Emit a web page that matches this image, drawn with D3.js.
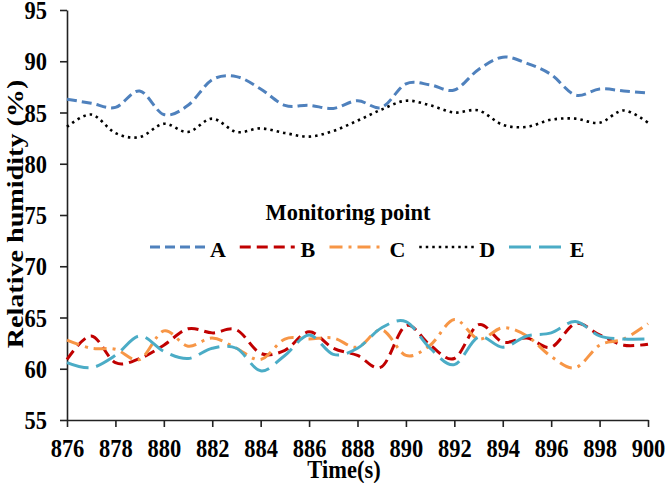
<!DOCTYPE html>
<html><head><meta charset="utf-8">
<script src="https://cdnjs.cloudflare.com/ajax/libs/d3/7.8.5/d3.min.js"></script>
<style>
html,body{margin:0;padding:0;background:#fff;}
text{font-family:"Liberation Serif","Times New Roman",serif;font-weight:bold;fill:#000;}
</style></head>
<body><svg id="chart" width="666" height="483"></svg>
<script>
const times = [876,877,878,879,880,881,882,883,884,885,886,887,888,889,890,891,892,893,894,895,896,897,898,899,900];
const seriesNames = ["A","B","C","D","E"];
const valuesA = [86.3,85.9,85.5,87.1,84.8,85.7,88.2,88.5,87.3,85.7,85.7,85.4,86.15,85.5,87.8,87.7,87.2,89.2,90.4,89.8,88.7,86.7,87.3,87.1,86.9];
const valuesB = [60.9,63.2,60.6,61.0,62.3,63.9,63.5,63.8,61.5,61.8,63.6,62.0,61.3,60.2,64.2,62.3,61.0,64.3,62.6,63.0,62.1,64.4,63.3,62.3,62.4];
const valuesC = [62.8,62.0,61.9,60.9,63.7,62.2,63.0,62.0,60.9,62.9,62.9,63.0,62.1,63.8,61.3,62.3,64.8,62.9,64.0,63.2,61.2,60.1,62.3,62.9,64.4];
const valuesD = [83.6,84.8,83.0,82.6,83.9,83.1,84.4,83.1,83.45,83.0,82.65,83.2,84.2,85.3,86.15,85.7,85.0,85.2,83.8,83.6,84.3,84.4,84.0,85.2,84.0];
const valuesE = [60.6,60.1,61.3,63.2,61.7,61.0,62.0,62.0,59.8,61.3,63.3,61.4,62.0,64.0,64.6,62.0,60.4,63.1,62.1,63.2,63.5,64.6,63.2,62.9,62.9];
const xTicks = [876,878,880,882,884,886,888,890,892,894,896,898,900];
const yTicks = [55,60,65,70,75,80,85,90,95];

const colors = {A:"#4F81BD",B:"#C00000",C:"#F79646",D:"#000000",E:"#4BACC6"};
const dashes = {A:"10 5",B:"11 6",C:"13 6 3 6",D:"2.5 4",E:"22 8"};
const widths = {A:3,B:3,C:3,D:2.6,E:3};
const data = {A:valuesA,B:valuesB,C:valuesC,D:valuesD,E:valuesE};

const svg = d3.select("#chart");
const L=67,R=648,T=10,B=420;
const x = d3.scaleLinear().domain([876,900]).range([L,R]);
const y = d3.scaleLinear().domain([55,95]).range([B,T]);

// axes
const xAxis = svg.append("g").attr("transform",`translate(0,${B})`)
  .call(d3.axisBottom(x).tickValues(xTicks).tickSize(7).tickSizeOuter(0).tickFormat(d3.format("d")));
const yAxis = svg.append("g").attr("transform",`translate(${L},0)`)
  .call(d3.axisLeft(y).tickValues(yTicks).tickSize(7).tickSizeOuter(0).tickFormat(d3.format("d")));
[xAxis,yAxis].forEach(g=>{
  g.select(".domain").attr("stroke","#222").attr("stroke-width",1.6);
  g.selectAll(".tick line").attr("stroke","#222").attr("stroke-width",1.6);
});
xAxis.selectAll(".tick text").attr("font-size",22.5).attr("dy",null).attr("y",0)
  .attr("transform","translate(0,37) scale(1,1.12)").attr("fill","#000");
yAxis.selectAll(".tick text").attr("font-size",22.5).attr("x",0).attr("dy",null)
  .attr("transform","translate(-20,8.5) scale(1,1.12)").attr("fill","#000");
svg.selectAll(".tick text").style("font-family",'"Liberation Serif","Times New Roman",serif').style("font-weight","bold");

// axis titles
svg.append("text").attr("text-anchor","middle").attr("font-size",22.5)
  .attr("transform","translate(344,478) scale(1,1.12)").text("Time(s)");
svg.append("text").attr("text-anchor","middle").attr("font-size",22.5)
  .attr("transform","translate(23,214) rotate(-90) scale(1.25,1)").text("Relative humidity (%)");

// lines
const line = d3.line().x((d,i)=>x(times[i])).y(d=>y(d)).curve(d3.curveCardinal.tension(0));
seriesNames.forEach(s=>{
  svg.append("path").datum(data[s]).attr("d",line).attr("fill","none")
    .attr("stroke",colors[s]).attr("stroke-width",widths[s])
    .attr("stroke-dasharray",dashes[s]).attr("stroke-linecap","butt");
});

// legend
svg.append("text").attr("x",348).attr("y",220).attr("text-anchor","middle").attr("font-size",22.4).text("Monitoring point");
const legendX = d3.scalePoint().domain(seriesNames).range([218,577]);
seriesNames.forEach(s=>{
  const cx = legendX(s);
  svg.append("line").attr("x1",cx-68).attr("x2",cx-13).attr("y1",247).attr("y2",247)
    .attr("stroke",colors[s]).attr("stroke-width",widths[s]).attr("stroke-dasharray",dashes[s]);
  svg.append("text").attr("x",cx).attr("y",257).attr("text-anchor","middle").attr("font-size",22).text(s);
});
</script></body></html>
